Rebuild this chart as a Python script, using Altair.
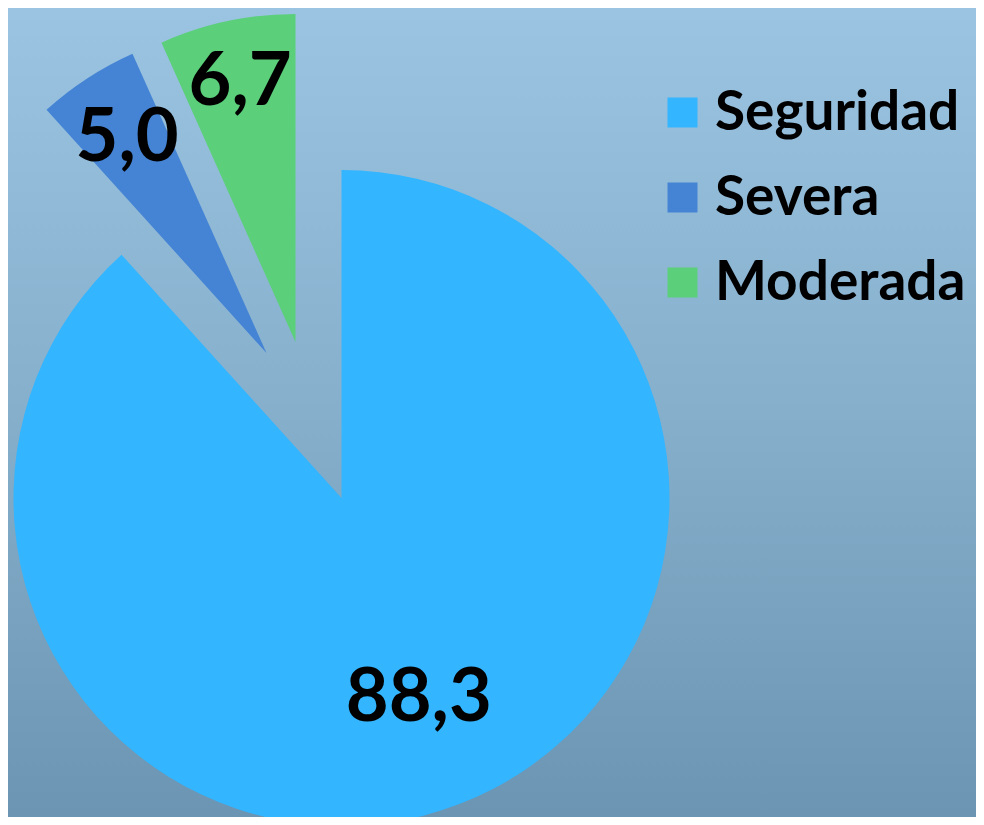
import altair as alt
import pandas as pd

categories = ["Seguridad", "Severa", "Moderada"]
values = [88.3, 5.0, 6.7]
labels = ["88,3", "5,0", "6,7"]
colors = ["#33b5ff", "#4584d4", "#5bcf7a"]

# style: explode offsets (px) and label radius per slice
explode_dx = [0, -75, -46]
explode_dy = [0, -145, -156]
label_radius = [215, 255, 265]

W, H = 968, 809
CX, CY = 333.5, 490
R = 328
FONT = "Lato"

df = pd.DataFrame({"cat": categories, "val": values, "label": labels,
                   "order": list(range(len(categories)))})

theta_scale = alt.Scale(domain=[0, 100], range=[0, 6.283185307179586], zero=True)
color_scale = alt.Scale(domain=categories, range=colors)

base = alt.Chart(df).transform_window(
    cum="sum(val)", sort=[alt.SortField("order")], frame=[None, 0]
).transform_calculate(
    start="datum.cum - datum.val", mid="datum.cum - datum.val/2"
)

bg = alt.Chart(df).mark_rect(
    fill=alt.Gradient(gradient="linear",
                      stops=[alt.GradientStop(color="#9bc4e2", offset=0),
                             alt.GradientStop(color="#86afcc", offset=0.5),
                             alt.GradientStop(color="#6b95b2", offset=1)],
                      x1=0, x2=0, y1=0, y2=1)
).encode(x=alt.value(0), x2=alt.value(W), y=alt.value(0), y2=alt.value(H))

layers = [bg]
for i, c in enumerate(categories):
    sub = base.transform_filter(alt.datum.cat == c)
    arc = sub.mark_arc(radius=R, x=CX + explode_dx[i], y=CY + explode_dy[i]).encode(
        theta=alt.Theta("cum:Q", scale=theta_scale),
        theta2="start:Q",
        color=alt.Color("cat:N", scale=color_scale, sort=categories,
                        legend=alt.Legend(title=None, orient="none",
                                          legendX=647, legendY=77,
                                          symbolType="square", symbolSize=900,
                                          symbolStrokeWidth=0,
                                          labelFontSize=55, labelFont=FONT,
                                          labelFontWeight="bold", labelColor="#000000",
                                          labelOffset=5, rowPadding=29,
                                          labelLimit=400)),
    )
    txt = sub.mark_text(radius=label_radius[i], x=CX + explode_dx[i], y=CY + explode_dy[i],
                        font=FONT, fontSize=74, fontWeight="bold", color="#000000",
                        align="center", baseline="middle").encode(
        theta=alt.Theta("mid:Q", scale=theta_scale),
        text="label:N",
    )
    layers += [arc, txt]

chart = alt.layer(*layers).properties(
    width=W, height=H, autosize=alt.AutoSizeParams(type="none"), padding=0
).configure_view(stroke=None).configure(background="#86afcc")

chart.save("out.html", embed_options={"renderer": "svg", "actions": False})
